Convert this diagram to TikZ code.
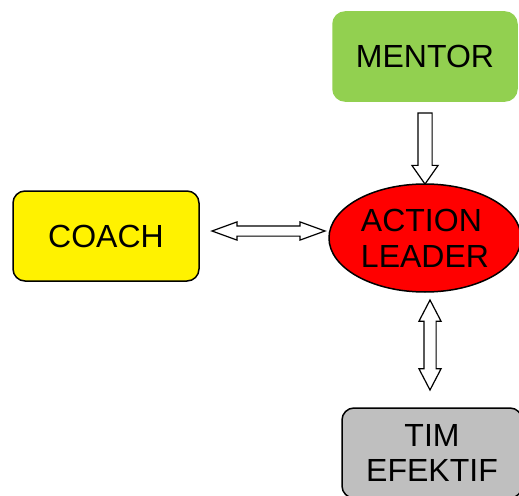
\documentclass[tikz,border=0pt]{standalone}
\usepackage{fontspec}
\setmainfont{Liberation Sans}
\usetikzlibrary{shapes.geometric, shapes.arrows, calc}
\definecolor{mentorgreen}{HTML}{92D050}
\definecolor{timgray}{HTML}{BFBFBF}
\tikzset{
  role/.style={
    draw,
    line width=1.5pt,
    rectangle,
    rounded corners=12pt,
    minimum width=186pt,
    minimum height=90pt,
    align=center,
    font=\fontsize{32}{35}\selectfont
  },
  leaderbox/.style={
    draw,
    line width=1.5pt,
    ellipse,
    fill=red,
    inner sep=0pt,
    minimum width=192pt,
    minimum height=108pt,
    align=left,
    font=\fontsize{32}{36}\selectfont
  },
  onearrow/.style={
    draw,
    line width=1.2pt,
    fill=white,
    single arrow,
    single arrow head indent=0pt
  },
  twoarrow/.style={
    draw,
    line width=1.2pt,
    fill=white,
    double arrow,
    double arrow head indent=0pt
  }
}
\begin{document}
\begin{tikzpicture}[x=1pt, y=-1pt]
    \useasboundingbox (0,0) rectangle (519,495);
    \node[role, draw=mentorgreen, fill=mentorgreen, minimum width=184pt, minimum height=89pt] (mentor) at (425,56.5) {MENTOR};
    \node[role, fill=yellow] (coach) at (106,236) {COACH};
    \node[leaderbox] (leader) at (425,238) {ACTION\\LEADER};
    \node[role, fill=timgray, minimum width=180pt] (tim) at (432,453) {TIM\\EFEKTIF};

    % panah antar peran
    \coordinate (m1) at ($(mentor.south)+(0,7)$);
    \coordinate (m2) at ($(leader.north)+(0,-5)$);
    \node[onearrow, shape border rotate=270, inner sep=6.5pt, minimum height=71pt, minimum width=25pt,
          single arrow head extend=6pt, single arrow tip angle=70] (mtol) at ($(m1)!0.5!(m2)$) {};

    \coordinate (c1) at ($(coach.east)+(13,-5)$);
    \coordinate (c2) at ($(leader.west)+(-4,-7)$);
    \node[twoarrow, inner sep=4.5pt, minimum height=113pt, minimum width=17pt,
          double arrow head extend=4pt, double arrow tip angle=40] (ctol) at ($(c1)!0.5!(c2)$) {};

    \coordinate (t1) at ($(leader.south)+(5,8)$);
    \coordinate (t2) at ($(tim.north)+(-2,-18)$);
    \node[twoarrow, shape border rotate=90, inner sep=5.5pt, minimum height=90pt, minimum width=21pt,
          double arrow head extend=5pt, double arrow tip angle=55] (ltot) at ($(t1)!0.5!(t2)$) {};
\end{tikzpicture}
\end{document}
